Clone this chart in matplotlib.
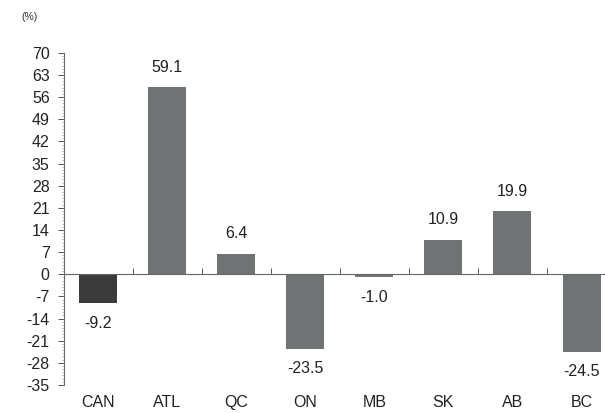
import matplotlib.pyplot as plt
import numpy as np
from matplotlib.ticker import MultipleLocator

plt.rcParams['font.family'] = ['Liberation Sans', 'DejaVu Sans']

regions = ['CAN', 'ATL', 'QC', 'ON', 'MB', 'SK', 'AB', 'BC']
change = [-9.2, 59.1, 6.4, -23.5, -1.0, 10.9, 19.9, -24.5]
y_ticks = [70, 63, 56, 49, 42, 35, 28, 21, 14, 7, 0, -7, -14, -21, -28, -35]

fig = plt.figure(figsize=(6.05, 4.13), dpi=100)
ax = fig.add_axes([0.105, 0.068, 0.895, 0.804])

x = np.arange(len(regions))
colors = ['#3b3b3b'] + ['#6f7373'] * (len(regions) - 1)
ax.bar(x, change, width=0.55, color=colors, edgecolor='none', zorder=2)

fs = 11.5
for xi, v in zip(x, change):
    if v >= 0:
        ax.annotate(f'{v:.1f}', (xi, v), xytext=(0, 9), textcoords='offset points',
                    ha='center', va='bottom', fontsize=fs, color='#222222')
    else:
        ax.annotate(f'{v:.1f}', (xi, v), xytext=(0, -9), textcoords='offset points',
                    ha='center', va='top', fontsize=fs, color='#222222')

ax.set_xlim(-0.5, 7.34)
ax.set_ylim(-35, 70)
ax.set_yticks(y_ticks)
ax.set_yticklabels([str(t) for t in y_ticks], fontsize=fs, color='#222222')
ax.yaxis.set_minor_locator(MultipleLocator(1))
ax.tick_params(axis='y', which='major', direction='out', length=4, width=0.7, color='#555555', pad=6)
ax.tick_params(axis='y', which='minor', direction='out', length=1.5, width=0.4, color='#888888')

# category boundaries as ticks on the zero line, names along the bottom
ax.spines['bottom'].set_position(('data', 0))
ax.set_xticks(np.arange(0.5, len(regions) - 1, 1.0))
ax.set_xticklabels([])
ax.tick_params(axis='x', direction='in', length=4, width=0.7, color='#555555')
for xi, name in zip(x, regions):
    ax.text(xi, -0.054, name, transform=ax.get_xaxis_transform(),
            ha='center', va='center', fontsize=fs, color='#222222')

for side in ['top', 'right']:
    ax.spines[side].set_visible(False)
for side in ['left', 'bottom']:
    ax.spines[side].set_color('#666666')
    ax.spines[side].set_linewidth(0.8)

fig.text(0.035, 0.96, '(%)', fontsize=7.5, color='#333333', ha='left', va='center')

fig.savefig('out.png', dpi=100)
